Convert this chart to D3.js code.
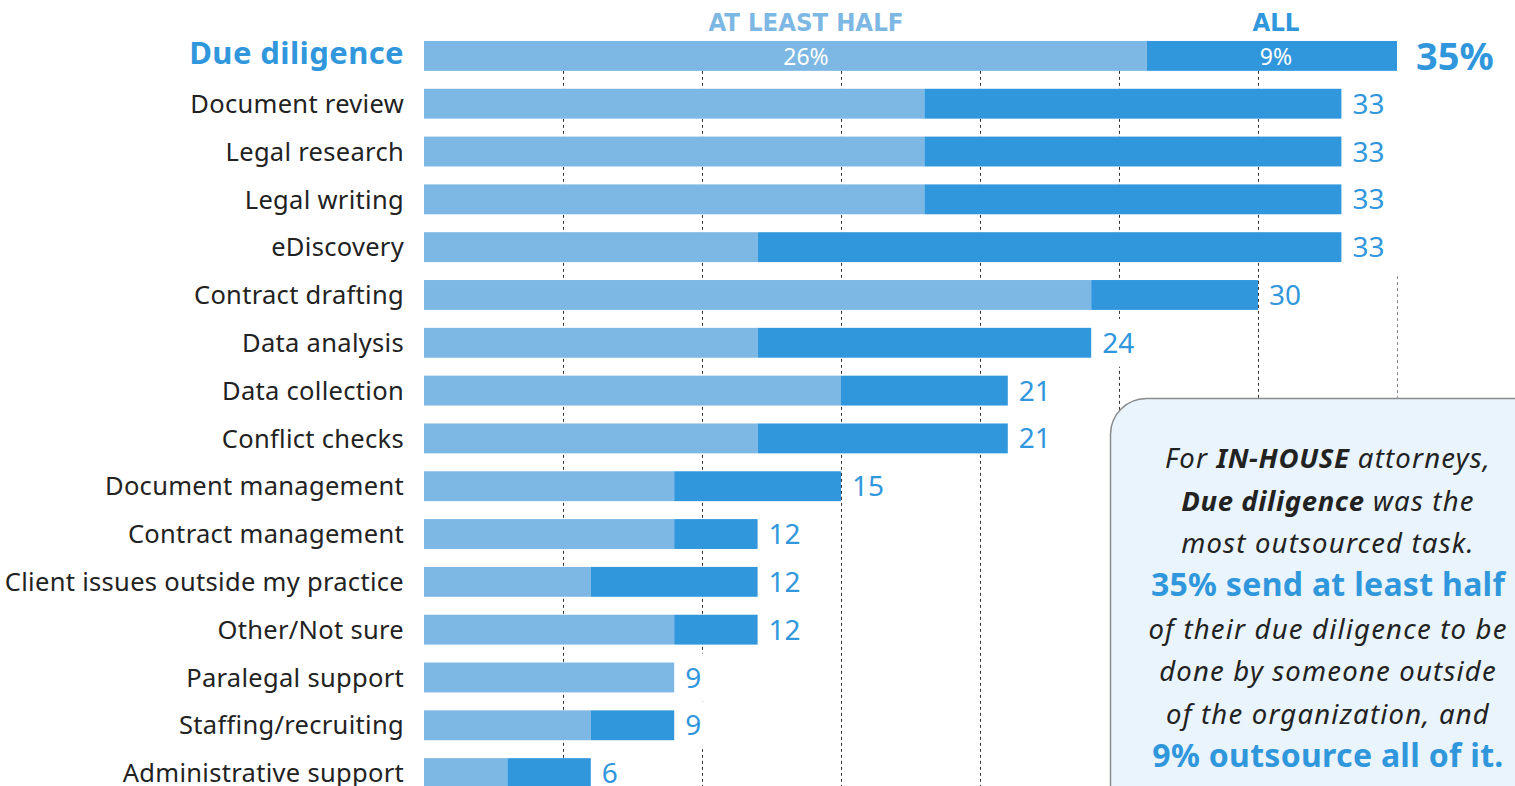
<!DOCTYPE html>
<html>
<head>
<meta charset="utf-8">
<script src="https://cdn.jsdelivr.net/npm/d3@7"></script>
<style>
	html, body { margin: 0; padding: 0; background: #fff; }
	svg { display: block; font-family: 'Noto Sans', sans-serif; }
</style>
</head>
<body>
<div id="chart"></div>
<script>
// 数据
var tasks = ['Due diligence', 'Document review', 'Legal research', 'Legal writing', 'eDiscovery',
	'Contract drafting', 'Data analysis', 'Data collection', 'Conflict checks', 'Document management',
	'Contract management', 'Client issues outside my practice', 'Other/Not sure', 'Paralegal support',
	'Staffing/recruiting', 'Administrative support'];
var atLeastHalf = [26, 18, 18, 18, 12, 24, 12, 15, 12, 9, 9, 6, 9, 9, 6, 3];
var allOfIt = [9, 15, 15, 15, 21, 6, 12, 6, 9, 6, 3, 6, 3, 0, 3, 3];
var totals = [35, 33, 33, 33, 33, 30, 24, 21, 21, 15, 12, 12, 12, 9, 9, 6];
var gridTicks = [5, 10, 15, 20, 25, 30, 35];
var seriesNames = ['AT LEAST HALF', 'ALL'];

var W = 1515, H = 786;
var light = '#7db7e3', dark = '#3197dd';
var condensed = "'DejaVu Sans Condensed', 'DejaVu Sans', sans-serif";

var svg = d3.select('#chart').append('svg').attr('width', W).attr('height', H);

var x = d3.scaleLinear().domain([0, 35]).range([424, 1397]);
var y = d3.scaleBand().domain(tasks).range([32, 797]).paddingInner(0.375).paddingOuter(0.1875);
var step = y.step();

// 网格线 (the 35 line only starts below the 33-rows)
var gridTop = function (d) {
	if (d === 35) return y(tasks[4]) + y.bandwidth() + 14;
	return y(tasks[0]) + y.bandwidth();
};
svg.append('g').attr('class', 'grid').selectAll('line').data(gridTicks).enter().append('line')
	.attr('x1', d => Math.round(x(d)) + 0.5).attr('x2', d => Math.round(x(d)) + 0.5)
	.attr('y1', gridTop).attr('y2', H)
	.attr('stroke', d => d === 35 ? '#888' : '#333').attr('stroke-width', 1).attr('stroke-dasharray', '3,3');

// 柱子
var rows = svg.append('g').selectAll('g').data(tasks).enter().append('g')
	.attr('transform', d => 'translate(0,' + y(d) + ')');

rows.append('rect')
	.attr('x', x(0)).attr('width', (d, i) => x(atLeastHalf[i]) - x(0))
	.attr('height', y.bandwidth()).attr('fill', light);
rows.append('rect')
	.attr('x', (d, i) => x(atLeastHalf[i]))
	.attr('width', (d, i) => x(atLeastHalf[i] + allOfIt[i]) - x(atLeastHalf[i]))
	.attr('height', y.bandwidth()).attr('fill', dark);

// 分类标签
rows.append('text')
	.attr('x', 404).attr('y', (d, i) => i === 0 ? y.bandwidth() / 2 - 3 : y.bandwidth() / 2)
	.attr('dy', '0.36em')
	.attr('text-anchor', 'end')
	.attr('font-size', (d, i) => i === 0 ? 31 : 25.5)
	.attr('letter-spacing', (d, i) => i === 0 ? 0.4 : 0.3)
	.attr('font-weight', (d, i) => i === 0 ? 700 : 400)
	.attr('fill', (d, i) => i === 0 ? dark : '#222')
	.text(d => d);

// 数值标签 (white background hides grid)
rows.each(function (d, i) {
	var g = d3.select(this);
	var tx = x(totals[i]) + (i === 0 ? 19 : 11);
	var t = g.append('text')
		.attr('x', tx).attr('y', y.bandwidth() / 2)
		.attr('dy', '0.36em')
		.attr('font-size', i === 0 ? 38 : 28)
		.attr('font-weight', i === 0 ? 700 : 400)
		.attr('fill', dark)
		.text(i === 0 ? totals[i] + '%' : totals[i]);
	var w = t.node().getComputedTextLength();
	g.insert('rect', 'text:last-of-type')
		.attr('x', tx - 6).attr('y', (y.bandwidth() - step) / 2)
		.attr('width', w + 12).attr('height', step).attr('fill', '#fff');
});

// 图例标题 + 第一行柱内标签
var headX = [806, 1276];
var r0 = y(tasks[0]) + y.bandwidth() / 2;
svg.append('text').attr('x', headX[0]).attr('y', r0).attr('dy', '0.38em')
	.attr('text-anchor', 'middle').attr('fill', '#fff').attr('font-size', 23)
	.text(atLeastHalf[0] + '%');
svg.append('text').attr('x', headX[1]).attr('y', r0).attr('dy', '0.38em')
	.attr('text-anchor', 'middle').attr('fill', '#fff').attr('font-size', 23)
	.text(allOfIt[0] + '%');

svg.append('text').attr('x', headX[0]).attr('y', 31).attr('text-anchor', 'middle')
	.attr('font-family', condensed).attr('font-stretch', 'condensed')
	.attr('font-weight', 700).attr('font-size', 25.5).attr('fill', light).text(seriesNames[0]);
svg.append('text').attr('x', headX[1]).attr('y', 31).attr('text-anchor', 'middle')
	.attr('font-family', condensed).attr('font-stretch', 'condensed')
	.attr('font-weight', 700).attr('font-size', 25.5).attr('fill', dark).text(seriesNames[1]);

// 注释框
var bx = 1110.5, by = 398.5, rr = 36;
svg.append('path')
	.attr('d', 'M' + bx + ',' + (H + 5) + 'V' + (by + rr) + 'A' + rr + ',' + rr + ' 0 0 1 ' + (bx + rr) + ',' + by +
		'H' + (W + 5) + 'V' + (H + 5) + 'Z')
	.attr('fill', '#e9f4fc').attr('stroke', '#8a8a8a').attr('stroke-width', 1.5);

var noteLines = [
	[['For ', 'i'], ['IN-HOUSE', 'b'], [' attorneys,', 'i']],
	[['Due diligence', 'b'], [' was the', 'i']],
	[['most outsourced task.', 'i']],
	[['35% send at least half', 'h']],
	[['of their due diligence to be', 'i']],
	[['done by someone outside', 'i']],
	[['of the organization, and', 'i']],
	[['9% outsource all of it.', 'h']]
];
var baselines = [468, 511, 553, 596, 639, 681, 724, 767];
var note = svg.append('g');
noteLines.forEach(function (parts, i) {
	var t = note.append('text').attr('x', 1328).attr('y', baselines[i]).attr('text-anchor', 'middle')
		.attr('font-size', 27.5);
	parts.forEach(function (p) {
		var s = t.append('tspan').text(p[0]);
		if (p[1] === 'i') s.attr('font-style', 'italic').attr('fill', '#222').attr('letter-spacing', 1.2);
		if (p[1] === 'b') s.attr('font-style', 'italic').attr('font-weight', 700).attr('fill', '#222').attr('letter-spacing', 0.6);
		if (p[1] === 'h') s.attr('font-weight', 700).attr('fill', dark).attr('font-size', 32).attr('letter-spacing', 0.3);
	});
});
</script>
</body>
</html>
